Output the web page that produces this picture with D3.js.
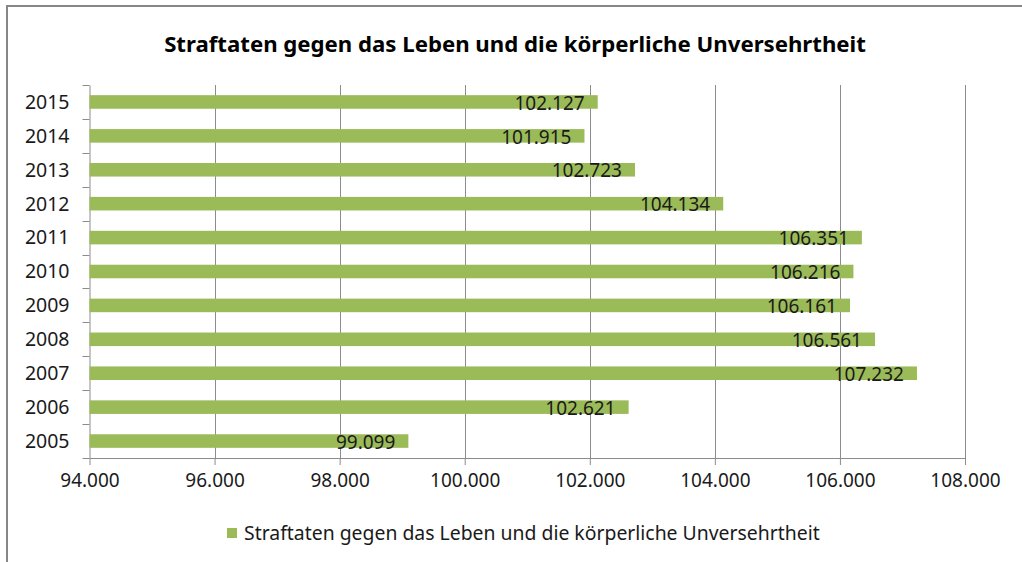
<!DOCTYPE html>
<html>
<head>
<meta charset="utf-8">
<script src="https://cdn.jsdelivr.net/npm/d3@7"></script>
<style>
  html, body { margin: 0; padding: 0; background: #fff; }
  svg { display: block; }
</style>
</head>
<body>
<div id="chart"></div>
<script>
// data
const years = ["2005", "2006", "2007", "2008", "2009", "2010", "2011", "2012", "2013", "2014", "2015"];
const cases = [99099, 102621, 107232, 106561, 106161, 106216, 106351, 104134, 102723, 101915, 102127];
const xTicks = [94000, 96000, 98000, 100000, 102000, 104000, 106000, 108000];
const seriesName = "Straftaten gegen das Leben und die körperliche Unversehrtheit";
const title = "Straftaten gegen das Leben und die körperliche Unversehrtheit";

const width = 1022, height = 562;
const plot = { left: 89.5, right: 965, top: 85, bottom: 458 };
const font = "'Noto Sans', sans-serif";
const gridColor = "#8c8c8c";
const barColor = "#9bbb59";

const de = d3.formatLocale({ decimal: ",", thousands: ".", grouping: [3], currency: ["", " €"] });
const fmt = de.format(",d");

const data = years.map((y, i) => ({ year: y, value: cases[i] }));

const svg = d3.select("#chart")
  .append("svg")
  .attr("width", width)
  .attr("height", height);

// chart border
svg.append("rect")
  .attr("x", 7)
  .attr("y", 6)
  .attr("width", width + 20)
  .attr("height", height + 20)
  .attr("fill", "#fff")
  .attr("stroke", "#878787")
  .attr("stroke-width", 2);

// title
svg.append("text")
  .attr("x", 515)
  .attr("y", 52)
  .attr("text-anchor", "middle")
  .style("font-family", font)
  .style("font-weight", "bold")
  .style("font-size", "22.2px")
  .style("fill", "#000")
  .text(title);

const x = d3.scaleLinear()
  .domain([94000, 108000])
  .range([plot.left, plot.right]);

// category slots (ticks at boundaries) and bars inside them
const yCat = d3.scaleBand()
  .domain(years.slice().reverse())
  .range([plot.top, plot.bottom])
  .padding(0);

const yBar = d3.scaleBand()
  .domain(years.slice().reverse())
  .range([plot.top, plot.bottom])
  .paddingInner(0.6)
  .paddingOuter(0.3);

// vertical gridlines
svg.append("g")
  .selectAll("line")
  .data(xTicks.slice(1))
  .join("line")
  .attr("x1", d => Math.round(x(d)) + 0.5)
  .attr("x2", d => Math.round(x(d)) + 0.5)
  .attr("y1", plot.top)
  .attr("y2", plot.bottom)
  .attr("stroke", gridColor)
  .attr("stroke-width", 1);

// x axis
const xAxis = svg.append("g")
  .attr("transform", "translate(0," + plot.bottom + ")")
  .call(d3.axisBottom(x).tickValues(xTicks).tickFormat(fmt).tickSize(7).tickSizeOuter(0));
xAxis.select(".domain").attr("stroke", gridColor);
xAxis.selectAll(".tick line").attr("stroke", gridColor);
xAxis.selectAll(".tick text")
  .attr("y", 23)
  .attr("dy", "0.32em")
  .style("font-family", font)
  .style("font-size", "19px")
  .style("fill", "#1a1a1a");

// y axis
const yAxis = svg.append("g")
  .attr("transform", "translate(" + plot.left + ",0)")
  .call(d3.axisLeft(yBar).tickSize(0));
yAxis.select(".domain").attr("stroke", gridColor);
yAxis.selectAll(".tick text")
  .attr("x", -20)
  .attr("dy", "0.35em")
  .style("font-family", font)
  .style("font-size", "19.5px")
  .style("fill", "#1a1a1a");

// tick marks at category boundaries
const bounds = years.map(y => yCat(y)).concat([plot.bottom]);
svg.append("g")
  .selectAll("line")
  .data(bounds)
  .join("line")
  .attr("x1", plot.left - 7)
  .attr("x2", plot.left)
  .attr("y1", d => Math.round(d) + 0.5)
  .attr("y2", d => Math.round(d) + 0.5)
  .attr("stroke", gridColor);

// bars
svg.append("g")
  .selectAll("rect")
  .data(data)
  .join("rect")
  .attr("x", x(94000))
  .attr("y", d => yBar(d.year))
  .attr("width", d => x(d.value) - x(94000))
  .attr("height", yBar.bandwidth())
  .attr("fill", barColor);

// value labels (inside end)
svg.append("g")
  .selectAll("text")
  .data(data)
  .join("text")
  .attr("x", d => x(d.value) - 13)
  .attr("y", d => yBar(d.year) + yBar.bandwidth() / 2 + 1)
  .attr("dy", "0.35em")
  .attr("text-anchor", "end")
  .style("font-family", font)
  .style("font-size", "19px")
  .style("fill", "#1a1a1a")
  .text(d => fmt(d.value));

// legend
const legend = svg.append("g").attr("transform", "translate(227,533)");
legend.append("rect")
  .attr("x", 0)
  .attr("y", -5)
  .attr("width", 10)
  .attr("height", 10)
  .attr("fill", barColor);
legend.append("text")
  .attr("x", 17)
  .attr("y", 0)
  .attr("dy", "0.35em")
  .style("font-family", font)
  .style("font-size", "19.4px")
  .style("fill", "#1a1a1a")
  .text(seriesName);
</script>
</body>
</html>
